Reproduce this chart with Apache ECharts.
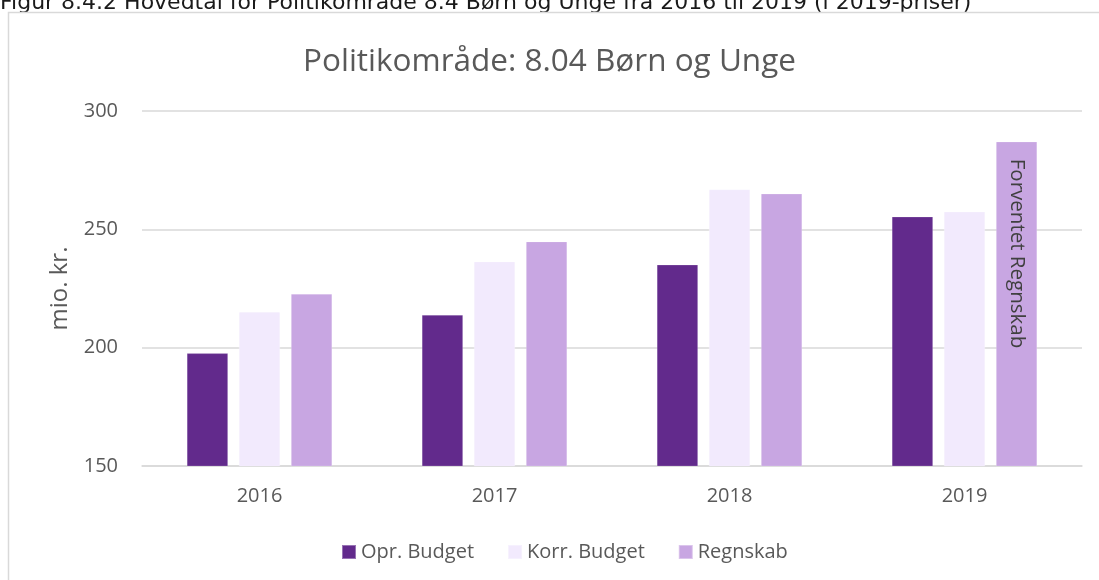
<!DOCTYPE html>
<html>
<head>
<meta charset="utf-8">
<script src="https://cdn.jsdelivr.net/npm/echarts@6/dist/echarts.min.js"></script>
<style>
  html, body { margin: 0; padding: 0; background: #fff; }
  #chart { width: 1099px; height: 580px; }
</style>
</head>
<body>
<div id="chart"></div>
<script>
// Budget figures, mio. kr. (2019 prices)
const years = ['2016', '2017', '2018', '2019'];
const oprBudget = [197.6, 213.8, 235.0, 255.3];
const korrBudget = [215.1, 236.3, 266.8, 257.4];
const regnskab = [222.7, 244.8, 265.0, 287.0];
const seriesNames = ['Opr. Budget', 'Korr. Budget', 'Regnskab'];
const yTicks = { min: 150, max: 300, interval: 50 };

const captionText = 'Figur 8.4.2 Hovedtal for Politikområde 8.4 Børn og Unge fra 2016 til 2019 (i 2019-priser)';
const titleText = 'Politikområde: 8.04 Børn og Unge';
const forecastLabel = 'Forventet Regnskab';

const FONT = '"Open Sans", "Noto Sans", sans-serif';
const TEXT_GREY = '#595959';
const colors = ['#622A8C', '#F2EAFD', '#C8A6E2'];

const chart = echarts.init(document.getElementById('chart'), null, { renderer: 'canvas' });

// last Regnskab bar carries the vertical "forecast" note
const regnskabData = regnskab.map((v, i) => i === regnskab.length - 1 ? {
  value: v,
  label: {
    show: true,
    formatter: forecastLabel,
    position: 'insideTop',
    rotate: -90,
    align: 'left',
    verticalAlign: 'middle',
    distance: 17,
    color: '#404040',
    fontSize: 20.5,
    fontFamily: FONT
  }
} : v);

function barSeries(name, data, color) {
  return {
    name, type: 'bar', data,
    barWidth: 41,
    barGap: '27%',
    itemStyle: { color, borderColor: 'rgba(255,255,255,0.35)', borderWidth: 0.5 },
    emphasis: { disabled: true }
  };
}

chart.setOption({
  animation: false,
  color: colors,
  textStyle: { fontFamily: FONT },
  graphic: [
    {
      type: 'text', x: 0, y: 3, silent: true,
      style: {
        text: captionText,
        font: '22px "DejaVu Sans", Verdana, sans-serif',
        fill: '#1a1a1a',
        verticalAlign: 'middle'
      }
    },
    {
      type: 'polyline', silent: true,
      shape: { points: [[8.5, 600], [8.5, 12.5], [1110, 12.5]] },
      style: { stroke: '#d9d9d9', lineWidth: 1.5, fill: null }
    }
  ],
  title: {
    text: titleText,
    left: 'center',
    top: 41,
    textStyle: { fontFamily: FONT, fontSize: 31.5, fontWeight: 'normal', color: TEXT_GREY }
  },
  legend: {
    data: seriesNames,
    top: 537,
    left: 336,
    itemWidth: 14,
    itemHeight: 14,
    itemGap: 33,
    icon: 'rect',
    textStyle: { fontFamily: FONT, fontSize: 20, color: TEXT_GREY }
  },
  grid: { left: 142, right: 17, top: 111, bottom: 114, containLabel: false },
  xAxis: {
    type: 'category',
    data: years,
    axisLine: { lineStyle: { color: '#d9d9d9', width: 1.5 } },
    axisTick: { show: false },
    axisLabel: { color: TEXT_GREY, fontSize: 20, fontFamily: FONT, margin: 20 }
  },
  yAxis: {
    type: 'value',
    min: yTicks.min, max: yTicks.max, interval: yTicks.interval,
    name: 'mio. kr.',
    nameLocation: 'middle',
    nameGap: 70,
    nameTextStyle: { color: TEXT_GREY, fontSize: 24, fontFamily: FONT },
    axisLine: { show: false },
    axisTick: { show: false },
    splitLine: { lineStyle: { color: '#d9d9d9', width: 1.5 } },
    axisLabel: { color: TEXT_GREY, fontSize: 20, fontFamily: FONT, margin: 24 }
  },
  series: [
    barSeries(seriesNames[0], oprBudget, colors[0]),
    barSeries(seriesNames[1], korrBudget, colors[1]),
    barSeries(seriesNames[2], regnskabData, colors[2])
  ]
});
</script>
</body>
</html>
